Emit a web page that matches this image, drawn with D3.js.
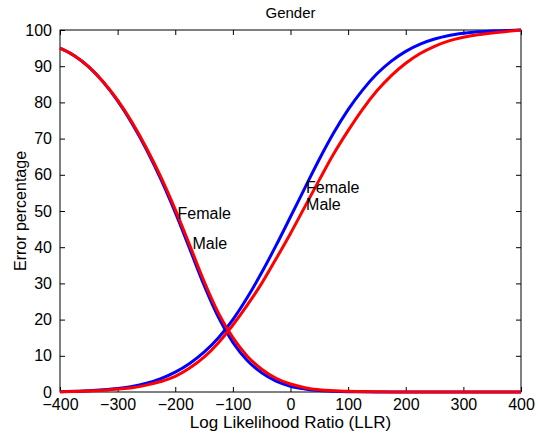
<!DOCTYPE html>
<html><head><meta charset="utf-8">
<script src="https://cdn.jsdelivr.net/npm/d3@7"></script>
<style>body{margin:0;background:#fff}svg{display:block}text{font-family:"Liberation Sans",Arial,sans-serif;fill:#000}</style>
</head><body><svg id="c" width="538" height="434"></svg>
<script>
const llr = [-400,-375,-350,-325,-300,-275,-250,-225,-200,-175,-150,-125,-100,-75,-50,-25,0,25,50,75,100,125,150,175,200,225,250,275,300,325,350,375,400];
const femaleDecreasing = [95.0,92.9,89.8,85.7,80.6,74.5,67.4,59.4,50.4,40.6,30.6,21.8,15.0,9.9,6.3,3.8,2.2,1.2,0.6,0.35,0.2,0.1,0.05,0.03,0,0,0,0,0,0,0,0,0];
const maleDecreasing   = [95.0,92.9,89.8,85.6,80.4,74.2,67.0,58.8,49.6,39.6,29.5,20.6,13.7,8.7,5.3,3.0,1.6,0.85,0.4,0.2,0.1,0.05,0.02,0,0,0,0,0,0,0,0,0,0];
const maleIncreasing   = [0.1,0.2,0.35,0.6,0.95,1.5,2.4,3.7,5.5,7.9,11.0,15.0,20.0,26.1,33.0,40.5,48.4,56.4,64.3,71.6,78.0,83.4,87.9,91.4,94.1,96.1,97.5,98.5,99.1,99.5,99.7,99.85,100];
const femaleIncreasing = [0.05,0.12,0.25,0.45,0.8,1.2,1.9,2.9,4.3,6.6,9.6,13.6,18.5,24.0,30.0,36.8,43.8,51.2,58.6,65.8,72.2,78.1,83.2,87.4,90.8,93.5,95.5,97.0,98.0,98.7,99.2,99.6,100];
const xTicks = [-400,-300,-200,-100,0,100,200,300,400];
const yTicks = [0,10,20,30,40,50,60,70,80,90,100];
const labelsLeft = ["Female","Male"];
const labelsRight = ["Female","Male"];

const svg = d3.select("#c");
const L=60,R=521,T=30,B=392;
const x = d3.scaleLinear().domain([-400,400]).range([L,R]);
const y = d3.scaleLinear().domain([0,100]).range([B,T]);
const fmt = d => d<0 ? "\u2212"+Math.abs(d) : String(d);

svg.append("rect").attr("x",L).attr("y",T).attr("width",R-L).attr("height",B-T)
  .attr("fill","none").attr("stroke","#000").attr("stroke-width",1);

const tl=5;
function styleAxis(g){g.select(".domain").remove();g.selectAll("line").attr("stroke","#000");g.selectAll("text").attr("font-size","16px").style("font-family",'"Liberation Sans",Arial,sans-serif');}
svg.append("g").attr("transform",`translate(0,${B})`)
  .call(d3.axisBottom(x).tickValues(xTicks).tickFormat(fmt).tickSizeInner(-tl).tickSizeOuter(0).tickPadding(7))
  .call(styleAxis);
svg.append("g").attr("transform",`translate(0,${T})`)
  .call(d3.axisTop(x).tickValues(xTicks).tickFormat("").tickSizeInner(-tl).tickSizeOuter(0))
  .call(styleAxis);
svg.append("g").attr("transform",`translate(${L},0)`)
  .call(d3.axisLeft(y).tickValues(yTicks).tickFormat(fmt).tickSizeInner(-tl).tickSizeOuter(0).tickPadding(8))
  .call(styleAxis);
svg.append("g").attr("transform",`translate(${R},0)`)
  .call(d3.axisRight(y).tickValues(yTicks).tickFormat("").tickSizeInner(-tl).tickSizeOuter(0))
  .call(styleAxis);

const line = vals => d3.line().x((d,i)=>x(llr[i])).y(d=>y(d)).curve(d3.curveMonotoneX)(vals);
const series = [
  {v:maleDecreasing,c:"#0000ff"},
  {v:maleIncreasing,c:"#0000ff"},
  {v:femaleDecreasing,c:"#ff0000"},
  {v:femaleIncreasing,c:"#ff0000"}
];
svg.append("g").selectAll("path").data(series).join("path")
  .attr("d",d=>line(d.v)).attr("fill","none").attr("stroke",d=>d.c).attr("stroke-width",3).attr("stroke-linejoin","round");

svg.append("text").attr("x",x(-196)).attr("y",y(47.7)).attr("font-size","16px").text(labelsLeft[0]);
svg.append("text").attr("x",x(-170)).attr("y",y(39.4)).attr("font-size","16px").text(labelsLeft[1]);
svg.append("text").attr("x",x(27)).attr("y",y(55.1)).attr("font-size","16px").text(labelsRight[0]);
svg.append("text").attr("x",x(27)).attr("y",y(50.2)).attr("font-size","16px").text(labelsRight[1]);

svg.append("text").attr("x",(L+R)/2).attr("y",18).attr("text-anchor","middle").attr("font-size","15px").text("Gender");
svg.append("text").attr("x",(L+R)/2).attr("y",428).attr("text-anchor","middle").attr("font-size","17px").text("Log Likelihood Ratio (LLR)");
svg.append("text").attr("transform",`translate(26,${(T+B)/2}) rotate(-90)`).attr("text-anchor","middle").attr("font-size","16px").text("Error percentage");
</script></body></html>
